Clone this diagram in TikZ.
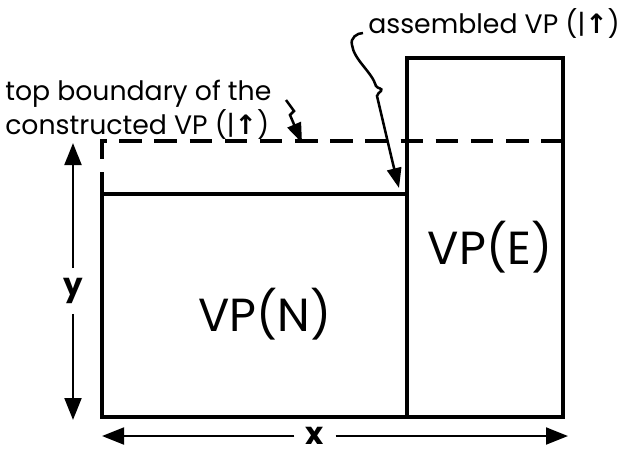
\documentclass[tikz,border=0pt]{standalone}
\usepackage{fontspec}
\setmainfont{Poppins}
\newfontfamily\symfont{DejaVu Sans}
\usetikzlibrary{positioning,arrows.meta}
\tikzset{
  wall/.style={line width=2.4pt,line join=miter},
  ghost/.style={line width=2.4pt,dash pattern=on 16pt off 9pt},
  arr/.style={-{Triangle[length=5.5mm,width=4.2mm]},line width=1.8pt},
  ptr/.style={-{Triangle[length=5mm,width=3.6mm]},line width=1.8pt},
  big/.style={font=\fontsize{33}{36}\selectfont,inner sep=0pt},
  note/.style={font=\fontsize{19}{17.7}\selectfont,align=left,inner sep=0pt},
  axis/.style={font=\fontsize{22}{24}\selectfont\bfseries,inner xsep=8pt,inner ysep=2pt}
}
\newcommand{\updn}{(|{\symfont\bfseries ↑})}

\begin{document}
\begin{tikzpicture}[x=0.025cm,y=-0.025cm]
\useasboundingbox (0,0) rectangle (618,454);
% the two boxes
\draw[wall] (407,58) rectangle (563,417);
\draw[wall] (102,194) rectangle (407,417);
\draw[ghost] (102,194) -- (102,141) -- (563,141);
\node[big] (vpn) at (265,314) {VP(N)};
\node[big] (vpe) at (490,247) {VP(E)};
% notes
\node[note,anchor=north west] (topnote) at (5,80) {top boundary of the\\constructed VP \updn};
\node[note,anchor=base west] (asmnote) at (368,33) {assembled VP \updn};
\coordinate (asmtail) at (363,33);
\coordinate (asmtip) at (399,188);
\draw[ptr] (asmtail) .. controls (357,33) and (350,38) .. (352,45)
  .. controls (354,60) and (372,72) .. (376,86)
  .. controls (378,89) and (383,88) .. (381,91)
  .. controls (380,93) and (377,93) .. (377,96)
  .. controls (385,130) and (392,160) .. (asmtip);
\coordinate (bndtail) at (286,100);
\coordinate (bndtip) at (302,143);
\draw[ptr] (bndtail) -- (294,111) -- (290,115) -- (bndtip);
% dimensions
\node[axis,inner ysep=7pt] (ylab) at (73,291) {y};
\coordinate (ytop) at (73,143);
\coordinate (ybot) at (73,420);
\draw[arr] (ylab) -- (ytop);
\draw[arr] (ylab) -- (ybot);
\node[axis] (xlab) at (315,436) {x};
\coordinate (xleft) at (102,436);
\coordinate (xright) at (568,436);
\draw[arr] (xlab) -- (xleft);
\draw[arr] (xlab) -- (xright);
\end{tikzpicture}
\end{document}
